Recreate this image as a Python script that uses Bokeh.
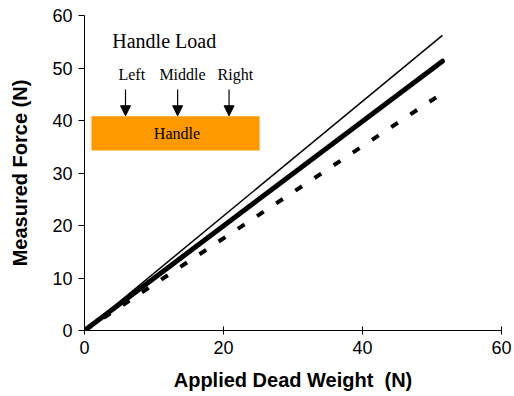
from bokeh.plotting import figure
from bokeh.models import Range1d, Arrow, NormalHead, Label, BoxAnnotation, FixedTicker
from bokeh.embed import file_html
from bokeh.resources import INLINE

# data
applied = [0, 51.5]
thin_force = [0, 56.2]
thick_force = [0, 51.3]
dashed_force = [0, 45.2]
ticks = [0, 10, 20, 30, 40, 50, 60]
x_ticks = [0, 20, 40, 60]

p = figure(width=514, height=396, output_backend="svg", toolbar_location=None,
           x_range=Range1d(0, 60), y_range=Range1d(0, 60),
           min_border_left=84, min_border_right=13, min_border_top=15, min_border_bottom=66)
p.outline_line_color = None
p.xgrid.visible = False
p.ygrid.visible = False

for ax in (p.xaxis[0], p.yaxis[0]):
    ax.axis_line_color = "black"
    ax.axis_line_width = 1
    ax.major_tick_line_color = "black"
    ax.minor_tick_line_color = None
    ax.major_label_text_font = "Liberation Sans"
    ax.major_label_text_font_size = "18px"
    ax.major_label_text_color = "black"
    ax.axis_label_text_font = "Liberation Sans"
    ax.axis_label_text_font_style = "bold"
    ax.axis_label_text_font_size = "20px"
    ax.axis_label_text_color = "black"

p.xaxis.ticker = FixedTicker(ticks=x_ticks)
p.yaxis.ticker = FixedTicker(ticks=ticks)
p.xaxis.major_tick_out = 4
p.xaxis.major_tick_in = 4
p.yaxis.major_tick_out = 6
p.yaxis.major_tick_in = 0
p.xaxis.axis_label = "Applied Dead Weight \u00a0(N)"
p.yaxis.axis_label = "Measured Force (N)"
p.xaxis.major_label_standoff = 6
p.yaxis.major_label_standoff = 6
p.xaxis.axis_label_standoff = 12
p.yaxis.axis_label_standoff = 18

p.line(applied, thin_force, line_color="black", line_width=1.5)
p.line(applied, thick_force, line_color="black", line_width=5, line_cap="round")
p.line(applied, dashed_force, line_color="black", line_width=4, line_dash="8 15")

# inset diagram
p.add_layout(BoxAnnotation(left=1.0, right=25.2, bottom=34.3, top=40.8,
                           fill_color="#FF9900", fill_alpha=1, line_color=None))
p.add_layout(Label(x=13.3, y=37.5, text="Handle", text_font="Liberation Serif",
                   text_font_size="16px", text_align="center", text_baseline="middle",
                   text_color="black"))
p.add_layout(Label(x=4.0, y=55.2, text="Handle Load", text_font="Liberation Serif",
                   text_font_size="20px", text_align="left", text_baseline="middle",
                   text_color="black"))
for xc, t in [(6.8, "Left"), (14.1, "Middle"), (21.7, "Right")]:
    p.add_layout(Label(x=xc, y=48.8, text=t, text_font="Liberation Serif",
                       text_font_size="16px", text_align="center", text_baseline="middle",
                       text_color="black"))
for xa in [5.9, 13.4, 20.8]:
    p.add_layout(Arrow(x_start=xa, y_start=45.9, x_end=xa, y_end=40.9,
                       line_color="black", line_width=1.2,
                       end=NormalHead(size=10, fill_color="black", line_color="black")))

open("out.html", "w").write(file_html(p, INLINE))
